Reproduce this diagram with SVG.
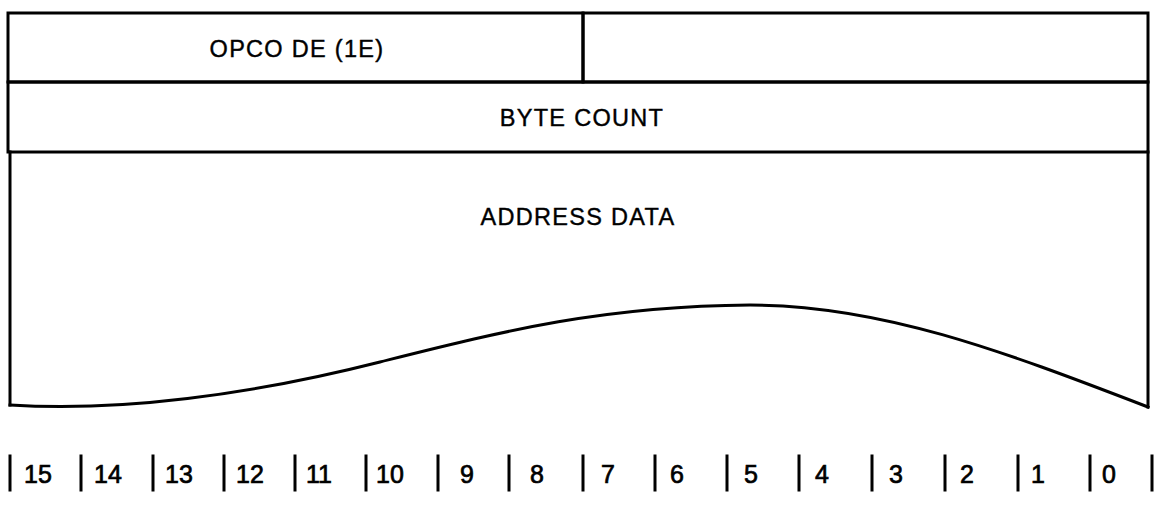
<svg xmlns="http://www.w3.org/2000/svg" width="1162" height="521" viewBox="0 0 1162 521">
<style>
.ln{stroke:#000;stroke-width:3;fill:none;stroke-linecap:square}
.t{font-family:"Liberation Sans",Arial,sans-serif;font-size:23.5px;letter-spacing:1.3px;fill:#000;stroke:#000;stroke-width:0.4;text-anchor:middle}
.n{font-family:"Liberation Sans",Arial,sans-serif;font-size:25px;fill:#000;stroke:#000;stroke-width:0.7;text-anchor:middle}
</style>
<rect width="1162" height="521" fill="#fff"/>
<g id="opcode">
<rect class="ln" x="8" y="13" width="575" height="69"/>
<text class="t" x="297" y="57">OPCO DE (1E)</text>
</g>
<g id="reserved">
<rect class="ln" x="583" y="13" width="565" height="69"/>
</g>
<g id="bytecount">
<rect class="ln" x="8" y="82" width="1140" height="70"/>
<text class="t" x="582" y="126">BYTE COUNT</text>
</g>
<g id="address">
<path class="ln" d="M10,152 V405" stroke-dasharray="40 3"/>
<path class="ln" d="M1148,152 V407"/>
<path class="ln" d="M10,405 C120,412 250,395 380,362 C500,332 600,306 750,305 C880,305 1000,350 1148,407"/>
<text class="t" x="578" y="225">ADDRESS DATA</text>
</g>
<g id="bits">
<g class="ln">
<path d="M10,456V490M81,456V490M153,456V490M224,456V490M295,456V490M366,456V490M438,456V490M509,456V490M583,456V490M655,456V490M727,456V490M799,456V490M872,456V490M945,456V490M1018,456V490M1090,456V490M1152,456V490"/>
</g>
<text class="n" x="38" y="483">15</text>
<text class="n" x="108" y="483">14</text>
<text class="n" x="179" y="483">13</text>
<text class="n" x="250" y="483">12</text>
<text class="n" x="319" y="483">11</text>
<text class="n" x="390" y="483">10</text>
<text class="n" x="467" y="483">9</text>
<text class="n" x="537" y="483">8</text>
<text class="n" x="608" y="483">7</text>
<text class="n" x="677" y="483">6</text>
<text class="n" x="751" y="483">5</text>
<text class="n" x="822" y="483">4</text>
<text class="n" x="896" y="483">3</text>
<text class="n" x="967" y="483">2</text>
<text class="n" x="1038" y="483">1</text>
<text class="n" x="1109" y="483">0</text>
</g>
</svg>
